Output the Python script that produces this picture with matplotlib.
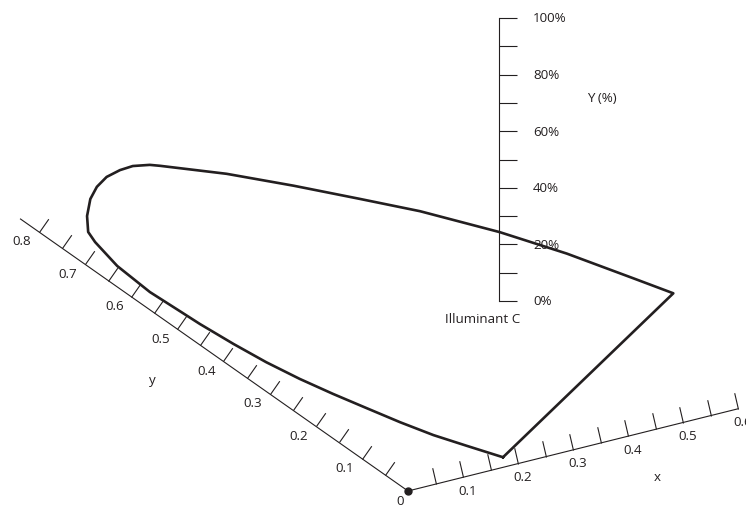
import numpy as np
import matplotlib.pyplot as plt
from matplotlib.transforms import Affine2D

plt.rcParams['font.family'] = ['Open Sans', 'DejaVu Sans']

# chromaticity outline (x, y), starting at the violet corner
locus_x = [0.192, 0.165, 0.141, 0.121, 0.103, 0.085, 0.069, 0.056, 0.047, 0.040,
           0.038, 0.034, 0.040, 0.056, 0.066, 0.095, 0.132, 0.164, 0.196, 0.227,
           0.252, 0.277, 0.289, 0.363, 0.430, 0.494, 0.551, 0.618, 0.667, 0.709,
           0.734, 0.192]
locus_y = [0.023, 0.070, 0.113, 0.161, 0.212, 0.264, 0.317, 0.374, 0.434, 0.499,
           0.534, 0.600, 0.678, 0.745, 0.772, 0.809, 0.846, 0.870, 0.887, 0.895,
           0.897, 0.890, 0.882, 0.826, 0.761, 0.693, 0.631, 0.538, 0.451, 0.357,
           0.300, 0.023]

x_ticks = np.arange(1, 13) * 0.05
x_labels = ['0.1', '0.2', '0.3', '0.4', '0.5', '0.6']
y_ticks = np.arange(1, 17) * 0.05
y_labels = ['0.1', '0.2', '0.3', '0.4', '0.5', '0.6', '0.7', '0.8']
lum_ticks = np.arange(0, 101, 10)
lum_labels = ['0%', '20%', '40%', '60%', '80%', '100%']

ink = '#231f20'
dpi = 100

fig = plt.figure(figsize=(7.46, 5.10), dpi=dpi)
ax = fig.add_axes([0, 0, 1, 1])
ax.set_xlim(0, 746)
ax.set_ylim(510, 0)
ax.axis('off')

# oblique view of the xy plane, and the vertical luminance scale
T_xy = Affine2D.from_values(550, -137, -461.3, -323.8, 408, 492) + ax.transData
T_lum = Affine2D().scale(1, -2.83).translate(499, 302) + ax.transData


def tick_marker(dx, dy):
    # marker is a short stroke starting at the point, size in pixels
    verts = [(0, 0), (dx, dy)]
    ms = 2 * max(abs(dx), abs(dy)) * 72 / dpi
    return verts, ms


fs = 9.6

# x axis
ax.plot([0, 0.6], [0, 0], color=ink, lw=0.8, transform=T_xy, clip_on=False)
m, ms = tick_marker(-3.8, 16.3)
ax.plot(x_ticks, np.zeros_like(x_ticks), linestyle='none', marker=m, ms=ms,
        mec=ink, mfc='none', mew=0.8, transform=T_xy, clip_on=False)
for i, lab in enumerate(x_labels):
    ax.annotate(lab, xy=((i + 1) * 0.1, 0), xycoords=T_xy, xytext=(5, -13),
                textcoords='offset pixels', ha='center', va='center',
                fontsize=fs, color=ink)
ax.annotate('x', xy=(0.5, 0), xycoords=T_xy, xytext=(-26, -54),
            textcoords='offset pixels', ha='center', va='center',
            fontsize=fs, color=ink)

# y axis
ax.plot([0, 0], [0, 0.84], color=ink, lw=0.8, transform=T_xy, clip_on=False)
m, ms = tick_marker(9.3, 13.3)
ax.plot(np.zeros_like(y_ticks), y_ticks, linestyle='none', marker=m, ms=ms,
        mec=ink, mfc='none', mew=0.8, transform=T_xy, clip_on=False)
for i, lab in enumerate(y_labels):
    ax.annotate(lab, xy=(0, (i + 1) * 0.1), xycoords=T_xy, xytext=(-17, -9),
                textcoords='offset pixels', ha='center', va='center',
                fontsize=fs, color=ink)
ax.annotate('y', xy=(0, 0.45), xycoords=T_xy, xytext=(-48, -34),
            textcoords='offset pixels', ha='center', va='center',
            fontsize=fs, color=ink)

ax.annotate('0', xy=(0, 0), xycoords=T_xy, xytext=(-8, -10),
            textcoords='offset pixels', ha='center', va='center',
            fontsize=fs, color=ink)
ax.plot([0], [0], 'o', ms=5, color=ink, transform=T_xy, clip_on=False)

# luminance scale
ax.plot([0, 0], [0, 100], color=ink, lw=0.8, transform=T_lum)
m, ms = tick_marker(18, 0)
ax.plot(np.zeros_like(lum_ticks), lum_ticks, linestyle='none', marker=m, ms=ms,
        mec=ink, mfc='none', mew=0.8, transform=T_lum)
for i, lab in enumerate(lum_labels):
    ax.annotate(lab, xy=(0, i * 20), xycoords=T_lum, xytext=(34, 0),
                textcoords='offset pixels', ha='left', va='center',
                fontsize=fs, color=ink, zorder=1)
ax.annotate('Y (%)', xy=(0, 100), xycoords=T_lum, xytext=(103, -79),
            textcoords='offset pixels', ha='center', va='center',
            fontsize=fs, color=ink)
ax.annotate('Illuminant C', xy=(0, 0), xycoords=T_lum, xytext=(-16, -18),
            textcoords='offset pixels', ha='center', va='center',
            fontsize=fs, color=ink)

# spectral locus and purple line
ax.plot(locus_x, locus_y, color=ink, lw=1.9, solid_joinstyle='round',
        transform=T_xy, zorder=3, clip_on=False)

fig.savefig('out.png', dpi=dpi)
